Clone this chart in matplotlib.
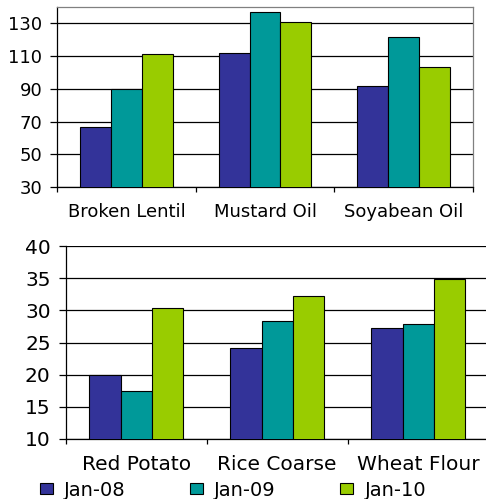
import matplotlib
matplotlib.use("Agg")
import matplotlib.pyplot as plt
from matplotlib.patches import Patch
import numpy as np

plt.rcParams['font.family'] = ['DejaVu Sans']

# Data
series = ["Jan-08", "Jan-09", "Jan-10"]
colors = ["#333399", "#009999", "#99CC00"]

top_cats = ["Broken Lentil", "Mustard Oil", "Soyabean Oil"]
top_jan08 = [67, 111.7, 91.8]
top_jan09 = [89.7, 136.7, 121.6]
top_jan10 = [111.3, 130.6, 103.4]

bot_cats = ["Red Potato", "Rice Coarse", "Wheat Flour"]
bot_jan08 = [19.9, 24.2, 27.2]
bot_jan09 = [17.5, 28.3, 27.8]
bot_jan10 = [30.4, 32.3, 34.8]

top_ticks = [30, 50, 70, 90, 110, 130]
bot_ticks = [10, 15, 20, 25, 30, 35, 40]

W, H = 486, 499
fig = plt.figure(figsize=(W / 100, H / 100), dpi=100)

ax1 = fig.add_axes([57.3 / W, 1 - 187.3 / H, 415.4 / W, 180.6 / H])
ax2 = fig.add_axes([65.7 / W, 1 - 439 / H, 423 / W, 193 / H])

bw = 0.222
px = 0.72  # points per pixel at dpi 100


def draw(ax, cats, vals, ylim, yticks, fs, grey_box):
    x = np.arange(len(cats))
    for i, v in enumerate(vals):
        ax.bar(x + (i - 1) * bw, v, bw, color=colors[i], edgecolor="black",
               linewidth=0.8, zorder=3)
    ax.set_xlim(-0.5, len(cats) - 0.5)
    ax.set_ylim(*ylim)
    ax.set_yticks(yticks)
    ax.set_xticks(x)
    ax.set_xticklabels(cats)
    ax.set_xticks(np.arange(len(cats) + 1) - 0.5, minor=True)
    ax.tick_params(axis="x", which="major", length=0, pad=16 * px, labelsize=fs)
    ax.tick_params(axis="x", which="minor", length=5 * px, width=0.9, direction="out")
    ax.tick_params(axis="y", length=7 * px, width=0.9, pad=8 * px, labelsize=fs)
    ax.yaxis.grid(True, color="black", linewidth=0.9, zorder=0)
    ax.set_axisbelow(True)
    for s in ["left", "bottom"]:
        ax.spines[s].set_color("black")
        ax.spines[s].set_linewidth(0.9)
    if grey_box:
        for s in ["top", "right"]:
            ax.spines[s].set_color("#808080")
            ax.spines[s].set_linewidth(0.9)
    else:
        ax.spines["top"].set_visible(False)
        ax.spines["right"].set_visible(False)


draw(ax1, top_cats, [top_jan08, top_jan09, top_jan10], (30, 140), top_ticks, 13, True)
draw(ax2, bot_cats, [bot_jan08, bot_jan09, bot_jan10], (10, 40), bot_ticks, 14.5, False)

handles = [Patch(facecolor=c, edgecolor="black", linewidth=0.8) for c in colors]
fig.legend(handles, series, loc="center left", bbox_to_anchor=(40 / W, 1 - 490 / H),
           ncol=3, frameon=False, borderpad=0, borderaxespad=0, fontsize=14,
           handlelength=0.65, handleheight=0.45, handletextpad=0.6,
           columnspacing=3.3)

fig.savefig("out.png", dpi=100)
